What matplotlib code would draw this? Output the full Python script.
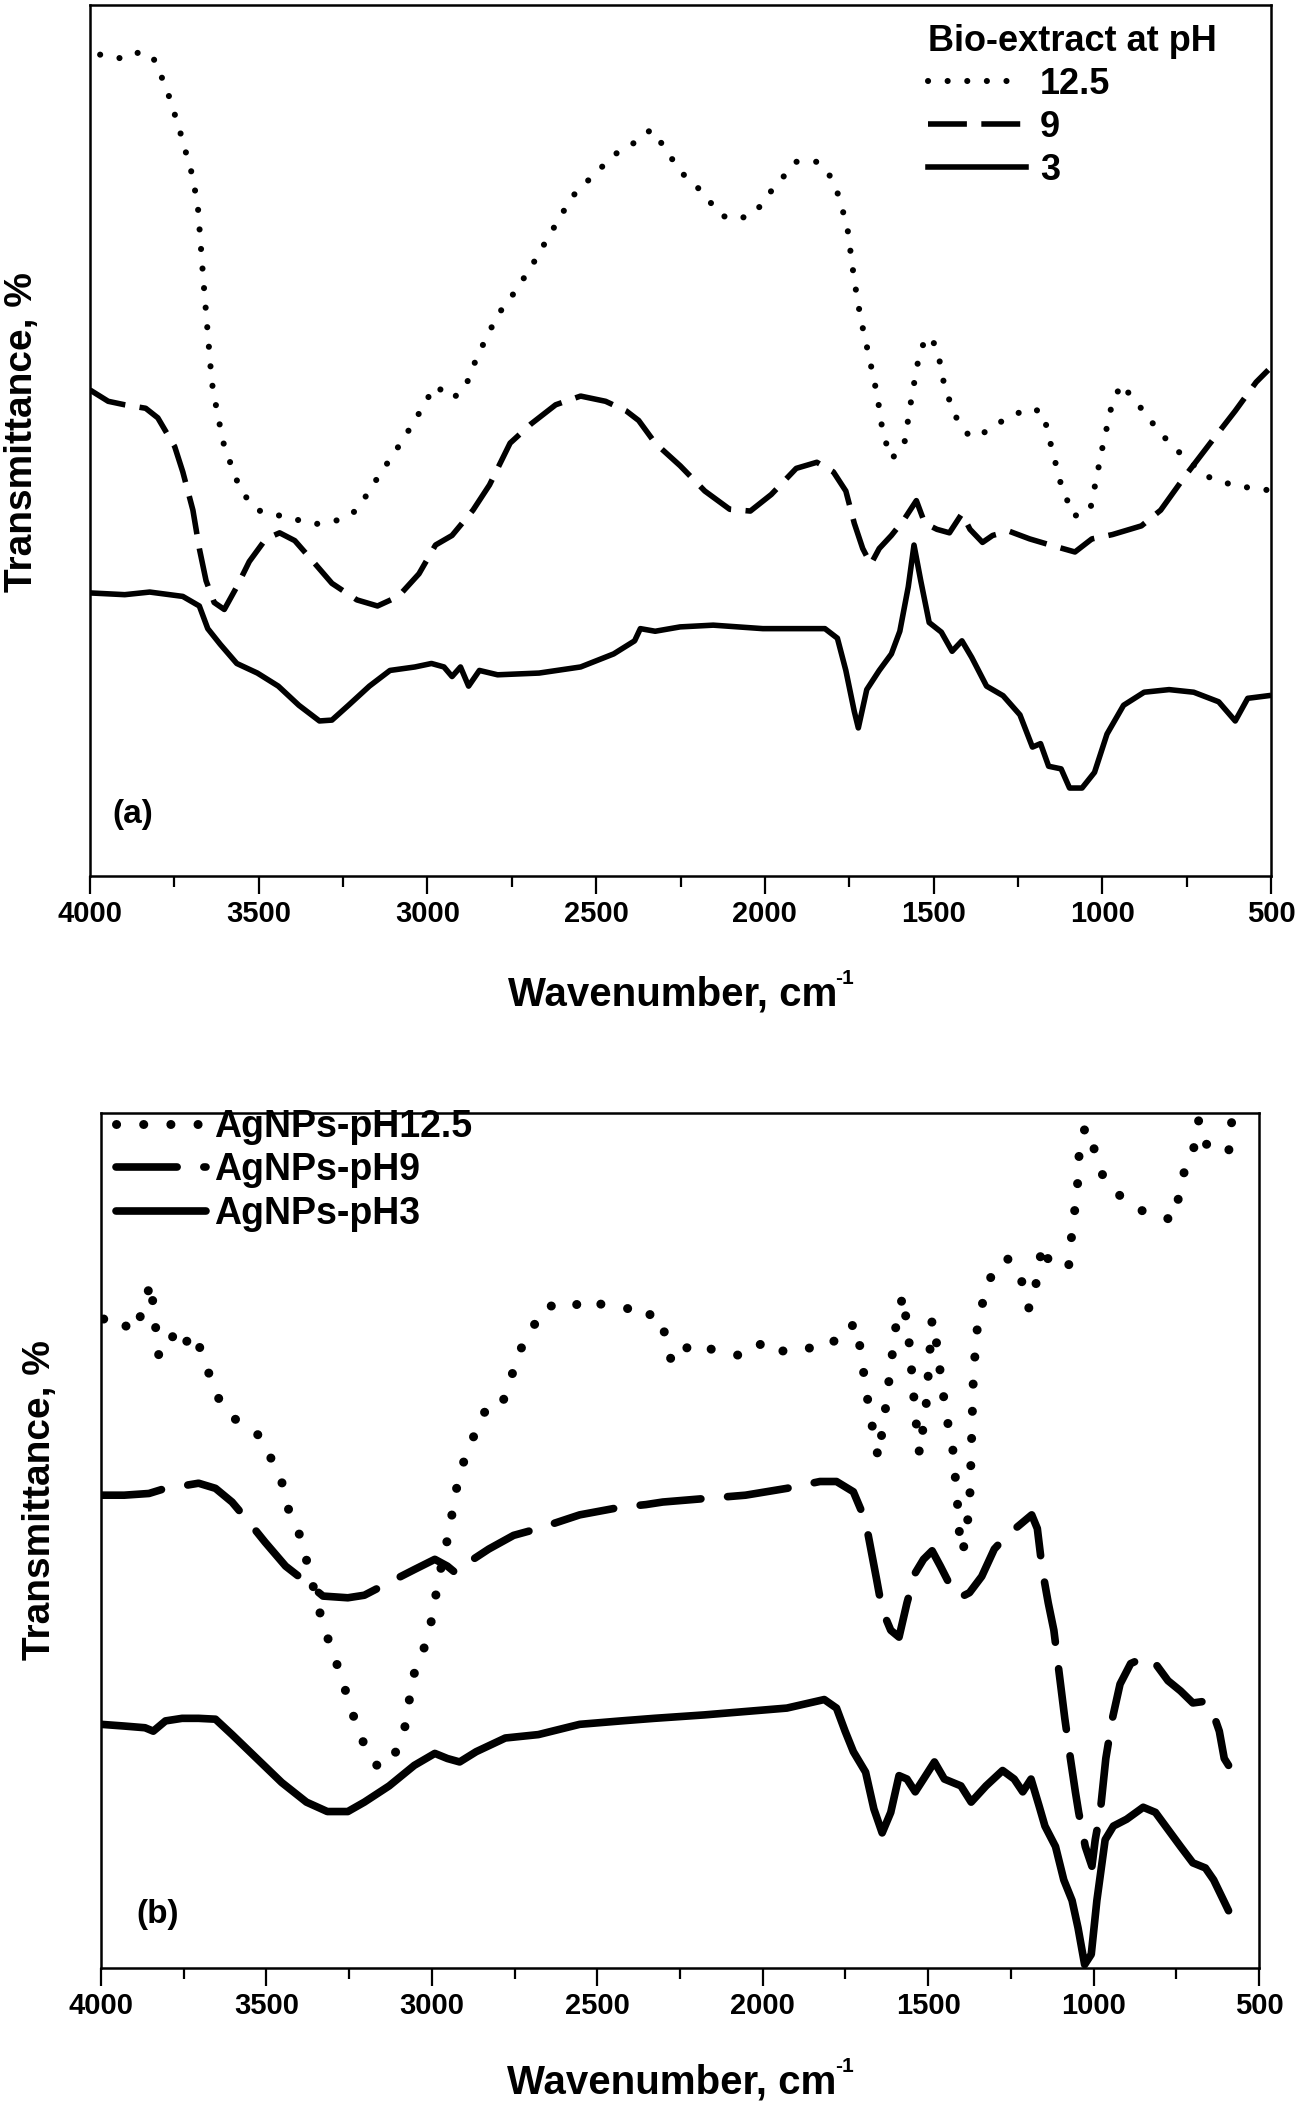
import matplotlib
matplotlib.use("Agg")
import matplotlib.pyplot as plt
from matplotlib.ticker import MultipleLocator

plt.rcParams['font.family'] = ['Liberation Sans', 'DejaVu Sans']
plt.rcParams['font.weight'] = 'bold'

# ---------------- Panel (a): Bio-extract ----------------
a_ph125_wn = [3970, 3897, 3848, 3811, 3774, 3737, 3700, 3681, 3664, 3639, 3622, 3602, 3553, 3504,
              3430, 3332, 3258, 3209, 3148, 3086, 3037, 3000, 2976, 2927, 2890, 2853, 2792, 2742,
              2693, 2644, 2571, 2497, 2436, 2386, 2337, 2300, 2251, 2190, 2129, 2079, 2030, 1980,
              1907, 1845, 1809, 1780, 1755, 1735, 1716, 1691, 1667, 1650, 1625, 1588, 1564, 1540,
              1515, 1490, 1466, 1429, 1392, 1355, 1294, 1220, 1176, 1151, 1122, 1085, 1036, 999,
              974, 945, 901, 827, 753, 680, 606, 508]
a_ph125_t = [94.3, 93.8, 94.7, 93.8, 90.5, 86.0, 80.9, 77.2, 68.4, 56.7, 53.0, 49.3, 44.2, 42.0,
             41.3, 40.4, 40.9, 42.0, 45.7, 49.3, 52.3, 54.8, 56.3, 54.8, 55.9, 59.6, 64.4, 67.0,
             69.9, 73.2, 78.0, 80.9, 83.1, 84.2, 85.7, 83.8, 80.9, 78.7, 75.8, 75.4, 76.1, 78.7,
             82.0, 82.0, 80.5, 78.0, 74.3, 68.4, 64.0, 59.6, 55.2, 50.8, 47.9, 49.3, 55.2, 60.4,
             62.0, 60.7, 55.9, 52.3, 50.4, 50.8, 52.3, 53.7, 53.3, 49.3, 44.9, 41.3, 42.0, 49.3,
             53.7, 56.5, 54.5, 50.8, 47.9, 45.7, 44.8, 44.3]

a_ph9_wn = [4000, 3946, 3897, 3835, 3799, 3749, 3725, 3695, 3676, 3656, 3632, 3602, 3565, 3528,
            3479, 3438, 3393, 3332, 3283, 3209, 3148, 3086, 3025, 2976, 2927, 2865, 2816, 2755,
            2693, 2620, 2546, 2472, 2411, 2374, 2325, 2251, 2178, 2104, 2043, 1981, 1907, 1846,
            1797, 1760, 1735, 1710, 1686, 1661, 1625, 1588, 1551, 1526, 1490, 1453, 1416, 1392,
            1355, 1325, 1277, 1215, 1154, 1081, 1031, 970, 884, 827, 753, 680, 606, 544, 508]
a_ph9_t = [55.8, 54.5, 54.1, 53.7, 52.6, 49.3, 46.4, 42.0, 37.6, 33.9, 31.4, 30.6, 33.2, 36.1,
           38.7, 39.4, 38.5, 35.8, 33.6, 31.7, 31.0, 32.1, 34.7, 38.0, 39.1, 42.0, 44.9, 49.7,
           51.9, 54.1, 55.1, 54.5, 53.4, 52.3, 49.7, 47.1, 44.2, 42.1, 41.9, 43.8, 46.8, 47.5,
           46.4, 44.2, 40.5, 37.6, 35.8, 37.6, 39.1, 40.9, 43.1, 40.5, 39.8, 39.4, 41.6, 39.8,
           38.3, 39.1, 39.6, 38.7, 38.0, 37.2, 38.7, 39.2, 40.2, 42.0, 46.0, 49.7, 53.4, 56.7, 58.1]

a_ph3_wn = [4000, 3897, 3823, 3725, 3676, 3651, 3614, 3565, 3504, 3442, 3381, 3320, 3283, 3234,
            3172, 3111, 3037, 2988, 2951, 2927, 2902, 2878, 2846, 2792, 2669, 2546, 2448, 2386,
            2369, 2325, 2251, 2153, 2006, 1822, 1785, 1760, 1735, 1723, 1698, 1661, 1625, 1600,
            1575, 1558, 1538, 1513, 1477, 1445, 1416, 1387, 1343, 1294, 1244, 1207, 1183, 1159,
            1122, 1097, 1060, 1023, 986, 937, 876, 802, 729, 655, 606, 569, 508]
a_ph3_t = [32.5, 32.3, 32.6, 32.1, 31.0, 28.4, 26.6, 24.4, 23.3, 21.8, 19.6, 17.8, 17.9, 19.6,
           21.8, 23.6, 24.0, 24.4, 24.0, 22.9, 24.0, 21.8, 23.6, 23.1, 23.3, 24.0, 25.5, 27.0,
           28.4, 28.1, 28.6, 28.8, 28.4, 28.4, 27.3, 23.6, 18.9, 17.0, 21.4, 23.6, 25.5, 28.1,
           33.2, 38.0, 33.9, 29.1, 28.0, 25.8, 27.0, 25.1, 21.8, 20.7, 18.5, 14.8, 15.2, 12.6,
           12.3, 10.1, 10.1, 11.9, 16.3, 19.6, 21.1, 21.4, 21.1, 20.0, 17.8, 20.4, 20.7]

a_labels = ['12.5', '9', '3']
a_title = 'Bio-extract at pH'

# ---------------- Panel (b): AgNPs ----------------
b_ph125_wn = [3992, 3955, 3905, 3875, 3850, 3840, 3825, 3792, 3780, 3755, 3717, 3692, 3667, 3642,
              3604, 3567, 3517, 3492, 3454, 3429, 3399, 3374, 3341, 3309, 3284, 3254, 3229, 3204,
              3166, 3129, 3104, 3079, 3058, 3028, 3003, 2978, 2948, 2928, 2903, 2878, 2853, 2828,
              2791, 2766, 2740, 2715, 2678, 2653, 2578, 2540, 2478, 2403, 2365, 2328, 2302, 2277,
              2252, 2227, 2190, 2152, 2102, 2052, 2002, 1964, 1889, 1827, 1777, 1739, 1726, 1706,
              1689, 1676, 1651, 1631, 1613, 1596, 1576, 1556, 1539, 1526, 1506, 1488, 1476, 1463,
              1446, 1426, 1413, 1405, 1395, 1375, 1370, 1363, 1350, 1325, 1300, 1262, 1237, 1212,
              1195, 1175, 1155, 1130, 1100, 1075, 1063, 1050, 1043, 1025, 1000, 975, 938, 900,
              850, 800, 762, 750, 725, 700, 682, 662, 625, 592, 580]
b_ph125_t = [75.9, 76.3, 74.3, 76.7, 80.2, 76.7, 71.5, 72.7, 74.3, 72.7, 74.3, 71.5, 68.8, 66.4,
             64.4, 63.6, 62.1, 60.1, 56.9, 53.0, 50.6, 47.0, 41.9, 37.9, 35.2, 31.6, 28.5, 26.1,
             23.7, 23.7, 25.7, 28.5, 34.0, 36.8, 40.3, 45.8, 51.0, 55.7, 59.3, 61.7, 64.4, 65.6,
             65.6, 68.4, 71.5, 73.9, 75.9, 77.5, 77.1, 78.3, 77.5, 77.1, 75.9, 76.7, 75.1, 71.1,
             70.8, 72.7, 73.1, 72.3, 71.9, 71.5, 73.1, 71.9, 72.7, 72.3, 73.5, 73.9, 75.5, 72.7,
             68.0, 64.8, 59.7, 64.8, 70.4, 75.5, 78.7, 72.7, 64.8, 60.1, 65.9, 75.9, 73.5, 69.6,
             64.8, 60.9, 55.3, 50.6, 48.6, 53.8, 60.1, 69.6, 75.5, 79.4, 81.8, 83.0, 82.2, 79.8,
             77.1, 79.8, 84.6, 82.2, 81.8, 82.2, 87.0, 90.5, 95.7, 98.4, 96.0, 92.9, 90.9, 89.7,
             88.5, 88.1, 87.4, 88.9, 93.3, 95.3, 99.2, 96.4, 95.8, 95.3, 100.0]

b_ph9_wn = [4000, 3930, 3855, 3805, 3767, 3705, 3654, 3604, 3554, 3504, 3442, 3379, 3329, 3254,
            3204, 3129, 3053, 2991, 2953, 2928, 2891, 2828, 2753, 2678, 2553, 2428, 2353, 2302,
            2177, 2052, 1927, 1827, 1777, 1726, 1701, 1681, 1656, 1639, 1613, 1588, 1564, 1539,
            1514, 1488, 1463, 1438, 1405, 1375, 1338, 1300, 1262, 1224, 1187, 1170, 1155, 1137,
            1120, 1105, 1087, 1070, 1055, 1045, 1025, 1005, 995, 980, 963, 943, 920, 888, 843,
            813, 775, 737, 700, 662, 637, 620, 605, 592]
b_ph9_t = [55.3, 55.3, 55.5, 56.1, 56.3, 56.7, 56.1, 54.5, 52.2, 49.8, 47.0, 45.1, 43.5, 43.3,
           43.6, 45.1, 46.6, 47.8, 47.0, 46.2, 47.4, 49.0, 50.6, 51.4, 53.0, 53.9, 54.2, 54.5,
           54.9, 55.3, 56.1, 56.9, 56.9, 55.7, 53.4, 50.6, 45.5, 41.9, 39.5, 38.7, 42.7, 46.2,
           47.8, 48.8, 47.0, 45.1, 43.3, 43.9, 45.8, 49.0, 50.6, 51.8, 53.0, 51.4, 46.6, 42.7,
           39.5, 34.8, 29.2, 24.5, 20.6, 18.2, 14.2, 11.9, 15.0, 18.2, 24.5, 29.2, 33.2, 35.6, 36.4,
           35.6, 33.6, 32.4, 31.0, 31.2, 29.6, 27.7, 24.5, 23.7]

b_ph3_wn = [4000, 3930, 3867, 3842, 3805, 3755, 3705, 3654, 3604, 3529, 3454, 3379, 3316, 3254,
            3204, 3129, 3053, 2991, 2953, 2916, 2866, 2778, 2678, 2553, 2428, 2328, 2177, 2052,
            1927, 1814, 1777, 1751, 1726, 1689, 1664, 1639, 1613, 1588, 1564, 1539, 1514, 1481,
            1451, 1401, 1370, 1325, 1275, 1240, 1214, 1189, 1165, 1147, 1115, 1090, 1065, 1047,
            1027, 1007, 990, 965, 940, 900, 850, 813, 775, 737, 700, 662, 637, 612, 592]
b_ph3_t = [28.5, 28.3, 28.1, 27.7, 28.9, 29.2, 29.2, 29.1, 27.3, 24.5, 21.7, 19.4, 18.3, 18.3,
           19.4, 21.3, 23.7, 25.1, 24.5, 24.1, 25.3, 26.9, 27.3, 28.5, 28.9, 29.2, 29.6, 30.0,
           30.4, 31.4, 30.4, 27.7, 25.3, 22.9, 18.6, 15.8, 18.2, 22.5, 22.1, 20.6, 22.1, 24.1,
           22.1, 21.3, 19.4, 21.3, 23.1, 22.1, 20.6, 22.1, 19.0, 16.6, 14.2, 10.3, 7.9, 4.7,
           0.4, 1.6, 7.9, 15.0, 16.6, 17.4, 18.8, 18.2, 16.2, 14.2, 12.3, 11.7, 10.3, 8.3, 6.7]

b_labels = ['AgNPs-pH12.5', 'AgNPs-pH9', 'AgNPs-pH3']

x_ticks = [4000, 3500, 3000, 2500, 2000, 1500, 1000, 500]
x_ticklabels = ['4000', '3500', '3000', '2500', '2000', '1500', '1000', '500']

W, H = 1299, 2105
fig = plt.figure(figsize=(W / 100, H / 100), dpi=100)


def px_rect(l, t, r, b):
    return [l / W, 1 - b / H, (r - l) / W, (b - t) / H]


def style_axes(ax):
    ax.set_xlim(4000, 500)
    ax.set_ylim(0, 100)
    ax.set_xticks(x_ticks)
    ax.set_xticklabels(x_ticklabels, fontsize=21, fontweight='bold')
    ax.xaxis.set_minor_locator(MultipleLocator(250))
    ax.set_yticks([])
    for s in ax.spines.values():
        s.set_linewidth(1.8)
    ax.tick_params(axis='x', which='major', direction='out', length=13, width=1.6,
                   pad=4, top=False)
    ax.tick_params(axis='x', which='minor', direction='out', length=8, width=1.6, top=False)


def add_xlabel(cx, cy):
    fig.text((cx - 8) / W, 1 - cy / H, 'Wavenumber, cm', fontsize=29, fontweight='bold',
             ha='center', va='center')
    fig.text((cx - 8 + 163) / W, 1 - (cy - 16) / H, '-1', fontsize=15, fontweight='bold',
             ha='left', va='center')


# Panel (a)
axa = fig.add_axes(px_rect(90, 5, 1271, 876))
axa.plot(a_ph125_wn, a_ph125_t, color='black', lw=4.4, linestyle=(0, (0.01, 3.2)),
         dash_capstyle='round', label=a_labels[0])
axa.plot(a_ph9_wn, a_ph9_t, color='black', lw=4.0, linestyle=(0, (7, 2.6)),
         dash_capstyle='butt', label=a_labels[1])
axa.plot(a_ph3_wn, a_ph3_t, color='black', lw=4.0, linestyle='-',
         solid_joinstyle='round', label=a_labels[2])
style_axes(axa)
axa.text(3872, 7.1, '(a)', fontsize=24, fontweight='bold', ha='center', va='center')
leg_a = axa.legend(loc='upper left', bbox_to_anchor=(928 / W, 1 - 24 / H),
                   bbox_transform=fig.transFigure, frameon=False, fontsize=26,
                   title=a_title, title_fontsize=26, alignment='left',
                   handlelength=2.7, handletextpad=0.4, labelspacing=0.22,
                   borderpad=0, borderaxespad=0)
leg_a.get_title().set_fontweight('bold')
for t in leg_a.get_texts():
    t.set_fontweight('bold')

# Panel (b)
axb = fig.add_axes(px_rect(101, 1113, 1259, 1968))
axb.plot(b_ph125_wn, b_ph125_t, color='black', lw=6.5, linestyle=(0, (0.01, 3.0)),
         dash_capstyle='round', label=b_labels[0])
axb.plot(b_ph9_wn, b_ph9_t, color='black', lw=5.5, linestyle=(0, (8, 3.5)),
         dash_capstyle='round', label=b_labels[1])
axb.plot(b_ph3_wn, b_ph3_t, color='black', lw=5.5, linestyle='-',
         solid_joinstyle='round', solid_capstyle='round', label=b_labels[2])
style_axes(axb)
axb.text(3830, 6.3, '(b)', fontsize=24, fontweight='bold', ha='center', va='center')
leg_b = axb.legend(loc='upper left', bbox_to_anchor=(116 / W, 1 - 1109 / H),
                   bbox_transform=fig.transFigure, frameon=False, fontsize=27,
                   handlelength=2.4, handletextpad=0.22, labelspacing=0.2,
                   borderpad=0, borderaxespad=0)
for t in leg_b.get_texts():
    t.set_fontweight('bold')

# Axis labels
add_xlabel((90 + 1271) / 2, 994)
add_xlabel((101 + 1259) / 2, 2082)
fig.text(22 / W, 1 - 432 / H, 'Transmittance, %', fontsize=28, fontweight='bold',
         rotation=90, ha='center', va='center')
fig.text(40 / W, 1 - 1500 / H, 'Transmittance, %', fontsize=28, fontweight='bold',
         rotation=90, ha='center', va='center')

fig.savefig('out.png', dpi=100, facecolor='white')
